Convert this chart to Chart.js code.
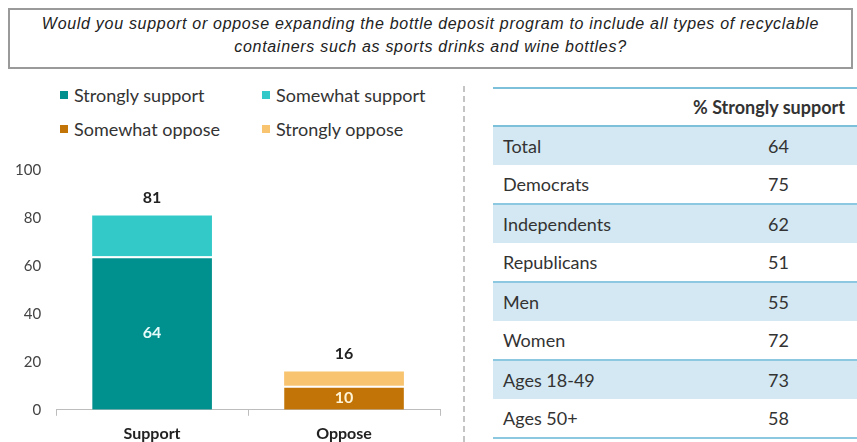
<!DOCTYPE html>
<html>
<head>
<meta charset="utf-8">
<script src="https://cdn.jsdelivr.net/npm/chart.js@4.4.1/dist/chart.umd.min.js"></script>
<style>
  body { margin: 0; background: #fff; width: 857px; height: 442px; overflow: hidden; position: relative; font-family: Lato, sans-serif; }
  #title { position: absolute; left: 8px; top: 8px; width: 841px; height: 55px; border: 2px solid #9a9a9a; box-sizing: content-box;
           font-family: "Liberation Sans", Arial, sans-serif; font-style: italic; font-size: 16px; letter-spacing: 0.7px; color: #222; text-align: center; line-height: 23px; padding-top: 2px; }
  #legend { position: absolute; left: 60px; top: 84px; width: 400px; }
  .item { position: absolute; font-size: 18px; color: #333; white-space: nowrap; }
  .item span { display: inline-block; width: 8px; height: 8px; margin-right: 6px; vertical-align: middle; position: relative; top: -2px; }
  #sep { position: absolute; left: 463px; top: 86px; height: 356px; border-left: 2px dashed #c4c4c4; }
  #wrap { position: absolute; left: 0; top: 146px; width: 460px; height: 305px; }
  table { position: absolute; left: 493px; top: 87px; width: 380px; border-collapse: collapse; font-size: 18px; color: #333; }
  th { height: 34px; font-weight: bold; text-align: left; padding-left: 200px; border-top: 2px solid #7cc0da; border-bottom: 2px solid #7cc0da; white-space: nowrap; }
  td { height: 38px; padding: 0; }
  td.lab { padding-left: 10px; width: 230px; }
  td.val { padding-left: 35px; }
  tr.blue td { background: #d3e8f2; border-top: 2px solid #8cc8df; }
  tr.last td { border-bottom: 2px solid #8cc8df; }
</style>
</head>
<body>
<div id="title">Would you support or oppose expanding the bottle deposit program to include all types of recyclable<br>containers such as sports drinks and wine bottles?</div>
<div id="legend"></div>
<div id="sep"></div>
<div id="wrap"><canvas id="canvas1"></canvas></div>
<table id="tbl"></table>
<script>
const categories = ['Support', 'Oppose'];
const seriesNames = ['Strongly support', 'Somewhat support', 'Somewhat oppose', 'Strongly oppose'];
const stronglySupport = [64, 0];
const somewhatSupport = [17, 0];
const somewhatOppose = [0, 10];
const stronglyOppose = [0, 6];
const totals = [81, 16];
const yTicks = [0, 20, 40, 60, 80, 100];

const groups = ['Total', 'Democrats', 'Independents', 'Republicans', 'Men', 'Women', 'Ages 18-49', 'Ages 50+'];
const pctStrongly = [64, 75, 62, 51, 55, 72, 73, 58];

const colors = ['#00918f', '#34c9c9', '#c27506', '#f8c46f'];

// legend, two columns
let legend = document.getElementById('legend');
seriesNames.forEach(function (name, i) {
    let d = document.createElement('div');
    d.className = 'item';
    d.style.left = (i % 2 === 0 ? 0 : 202) + 'px';
    d.style.top = (Math.floor(i / 2) * 34) + 'px';
    d.innerHTML = '<span style="background:' + colors[i] + '"></span>' + name;
    legend.appendChild(d);
});

// table
let tbl = document.getElementById('tbl');
let html = '<tr><th colspan="2">% Strongly support</th></tr>';
groups.forEach(function (g, i) {
    let cls = (i % 2 === 0 ? 'blue' : '') + (i === groups.length - 1 ? ' last' : '');
    html += '<tr class="' + cls + '"><td class="lab">' + g + '</td><td class="val">' + pctStrongly[i] + '</td></tr>';
});
tbl.innerHTML = html;

// labels on bars
const barLabels = {
    id: 'barLabels',
    afterDatasetsDraw: function (chart) {
        let ctx = chart.ctx;
        ctx.save();
        ctx.textAlign = 'center';
        ctx.textBaseline = 'middle';
        ctx.font = 'bold 16px Lato';
        // inside labels on bottom segments
        [0, 2].forEach(function (di) {
            let meta = chart.getDatasetMeta(di);
            meta.data.forEach(function (bar, i) {
                let v = chart.data.datasets[di].data[i];
                if (!v) return;
                ctx.fillStyle = di === 0 ? '#e8fbfb' : '#fff3d6';
                ctx.fillText(v, bar.x, (bar.y + bar.base) / 2);
            });
        });
        // totals above
        let ys = chart.scales.y;
        totals.forEach(function (t, i) {
            let x = chart.getDatasetMeta(0).data[i].x;
            ctx.fillStyle = '#222';
            ctx.fillText(t, x, ys.getPixelForValue(t) - 18);
        });
        ctx.restore();
    }
};

let bottomBorder = { top: 2, right: 0, bottom: 0, left: 0 };
let chart1 = new Chart(document.getElementById('canvas1'), {
    type: 'bar',
    data: {
        labels: categories,
        datasets: [
            { label: seriesNames[0], data: stronglySupport, backgroundColor: colors[0], borderColor: '#ffffff', borderWidth: bottomBorder, borderSkipped: false },
            { label: seriesNames[1], data: somewhatSupport, backgroundColor: colors[1], borderWidth: 0 },
            { label: seriesNames[2], data: somewhatOppose, backgroundColor: colors[2], borderColor: '#ffffff', borderWidth: bottomBorder, borderSkipped: false },
            { label: seriesNames[3], data: stronglyOppose, backgroundColor: colors[3], borderWidth: 0 }
        ]
    },
    options: {
        responsive: true,
        maintainAspectRatio: false,
        animation: false,
        layout: { padding: { top: 9, right: 20, left: 0, bottom: 0 } },
        datasets: { bar: { barPercentage: 1, categoryPercentage: 0.624 } },
        plugins: {
            legend: { display: false },
            tooltip: { enabled: false }
        },
        scales: {
            x: {
                stacked: true,
                border: { display: true, color: '#bdbdbd', width: 1 },
                grid: { display: true, drawOnChartArea: false, drawTicks: true, tickLength: 6, color: '#bdbdbd' },
                ticks: { color: '#222', font: { family: 'Lato', size: 16, weight: 'bold' }, padding: 8 }
            },
            y: {
                stacked: true,
                min: 0,
                max: 100,
                afterBuildTicks: function (axis) { axis.ticks = yTicks.map(function (v) { return { value: v }; }); },
                border: { display: false },
                grid: { display: false, drawTicks: false },
                ticks: { color: '#444', font: { family: 'Lato', size: 15 }, padding: 15 }
            }
        }
    },
    plugins: [barLabels]
});
</script>
</body>
</html>
